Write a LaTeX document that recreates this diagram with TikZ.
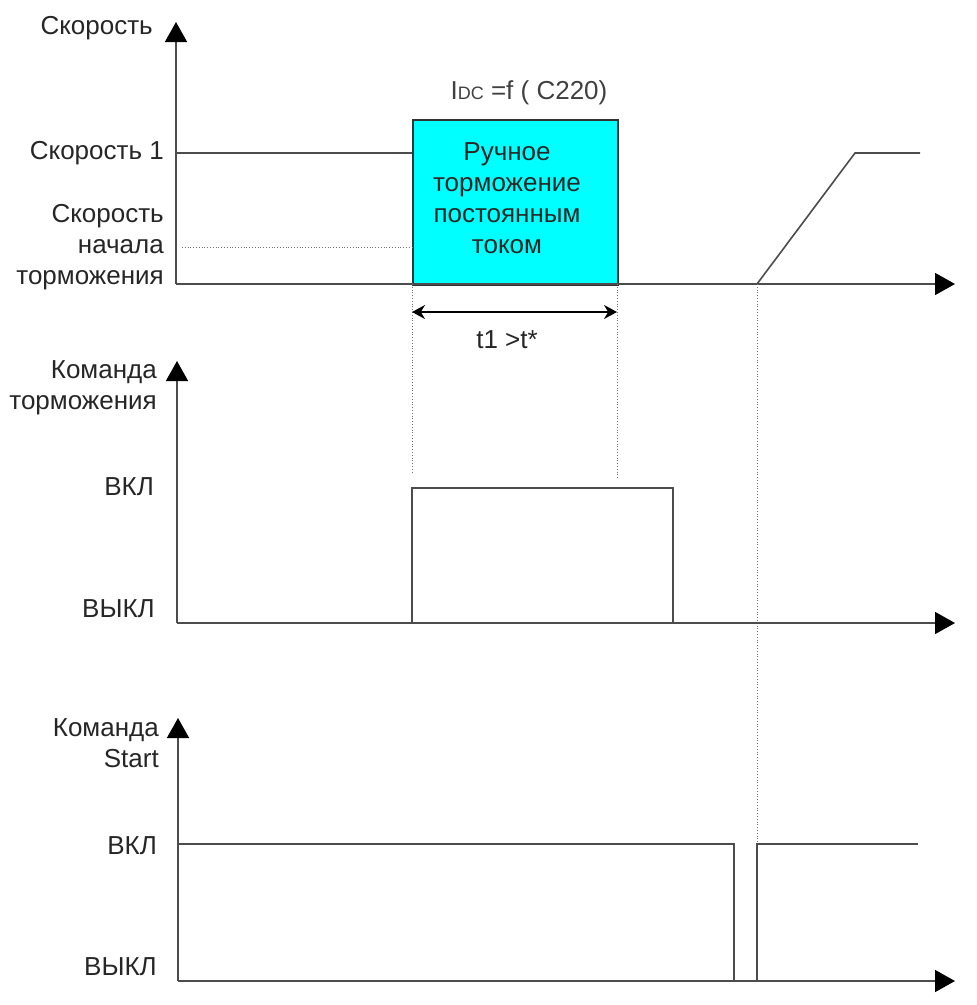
\documentclass[tikz,border=0pt]{standalone}
\usepackage{fontspec}
\setmainfont{Liberation Sans}
\usetikzlibrary{arrows.meta}
\definecolor{aquafill}{RGB}{0,255,255}
\begin{document}
\begin{tikzpicture}[x=1pt,y=-1pt,
  axis/.style={line width=1.6pt, draw=black!70, -{Triangle[length=20pt,width=22pt,color=black]}},
  sig/.style={line width=1.6pt, draw=black!70},
  guide/.style={line width=0.8pt, draw=black!55, dotted},
  lbl/.style={font=\fontsize{26}{31}\selectfont, text=black!85, inner sep=0pt, align=right, anchor=east},
  ctext/.style={font=\fontsize{26}{31}\selectfont, text=black!85, inner sep=0pt, align=center}
]
\useasboundingbox (0,0) rectangle (977,1005);

% ---------- top: speed ----------
\coordinate (o1) at (176,284);
\coordinate (y1) at (176,22);
\coordinate (x1) at (955,284);
\coordinate (s1a) at (176,153);
\coordinate (s1b) at (412,153);
\coordinate (d1a) at (182,247);
\coordinate (d1b) at (412,247);
\coordinate (r0) at (757,284);
\coordinate (r1) at (855,153);
\coordinate (r2) at (920,153);

\node[draw=black!80, line width=1.6pt, fill=aquafill, minimum width=205pt, minimum height=165pt,
      anchor=north west, inner sep=0pt] (box) at (412,119) {};
\node[ctext] (boxtext) at (507,198) {Ручное\\торможение\\постоянным\\током};
\node[ctext, text=black!75] (idc) at (529,93) {I{\fontsize{18}{18}\selectfont DC} =f ( C220)};

\draw[sig] (s1a) -- (s1b);
\draw[guide] (d1a) -- (d1b);
\draw[sig] (r0) -- (r1) -- (r2);
\draw[axis] (o1) -- (y1);
\draw[axis] (o1) -- (x1);

\node[lbl] (lspeed) at (153,28) {Скорость};
\node[lbl] (lspeed1) at (164,153) {Скорость 1};
\node[lbl] (lstart) at (164,247) {Скорость\\начала\\торможения};

% guides down
\coordinate (g1a) at (412,284);
\coordinate (g1b) at (412,473);
\coordinate (g2a) at (617,284);
\coordinate (g2b) at (617,478);
\coordinate (g3a) at (757,284);
\coordinate (g3b) at (757,844);
\draw[guide] (g1a) -- (g1b);
\draw[guide] (g2a) -- (g2b);
\draw[guide] (g3a) -- (g3b);

\coordinate (t1a) at (412,312);
\coordinate (t1b) at (617,312);
\draw[line width=1.6pt, black, {Stealth[length=13pt,width=14pt]}-{Stealth[length=13pt,width=14pt]}] (t1a) -- (t1b);
\node[ctext] (t1lbl) at (507,340) {t1 >t*};

% ---------- middle: brake command ----------
\coordinate (o2) at (177,623);
\coordinate (y2) at (177,361);
\coordinate (x2) at (955,623);
\coordinate (p1) at (412,623);
\coordinate (p2) at (412,488);
\coordinate (p3) at (673,488);
\coordinate (p4) at (673,623);
\draw[sig] (p1) -- (p2) -- (p3) -- (p4);
\draw[axis] (o2) -- (y2);
\draw[axis] (o2) -- (x2);
\node[lbl] (lbrake) at (157,388) {Команда\\торможения};
\node[lbl] (lon2) at (154,487) {ВКЛ};
\node[lbl] (loff2) at (155,609) {ВЫКЛ};

% ---------- bottom: start command ----------
\coordinate (o3) at (178,981);
\coordinate (y3) at (178,718);
\coordinate (x3) at (955,981);
\coordinate (q1) at (178,844);
\coordinate (q2) at (734,844);
\coordinate (q3) at (734,981);
\coordinate (q4) at (757,981);
\coordinate (q5) at (757,844);
\coordinate (q6) at (918,844);
\draw[sig] (q1) -- (q2) -- (q3);
\draw[sig] (q4) -- (q5) -- (q6);
\draw[axis] (o3) -- (y3);
\draw[axis] (o3) -- (x3);
\node[lbl] (lstartcmd) at (159,743) {Команда\\Start};
\node[lbl] (lon3) at (157,846) {ВКЛ};
\node[lbl] (loff3) at (157,967) {ВЫКЛ};
\end{tikzpicture}
\end{document}
